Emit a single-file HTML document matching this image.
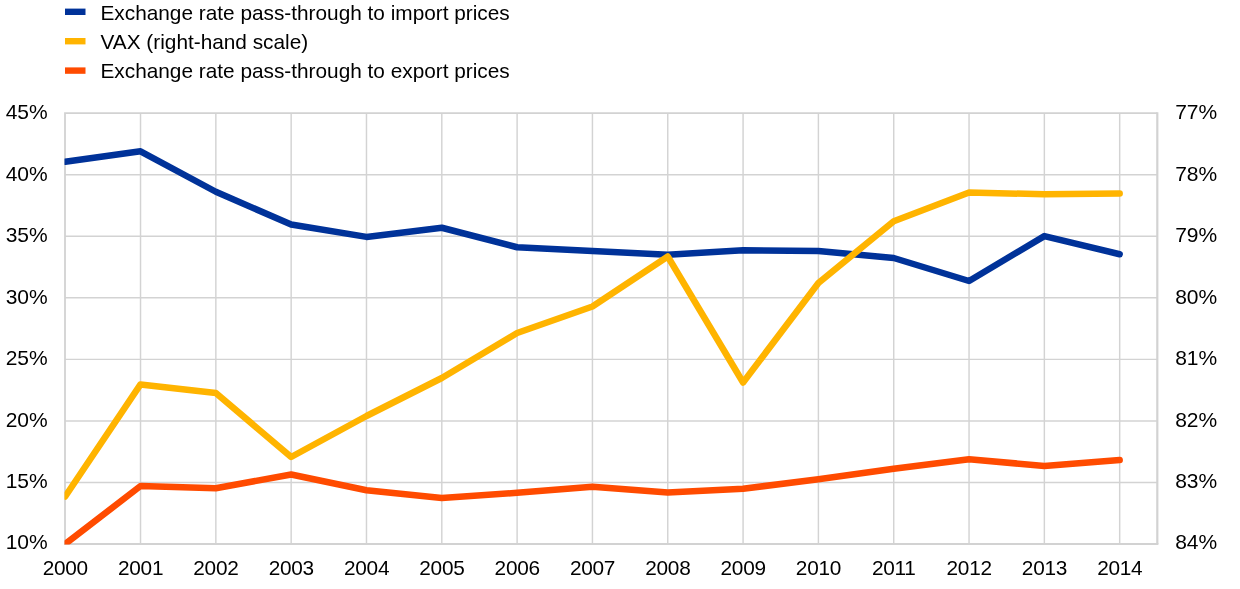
<!DOCTYPE html>
<html lang="en"><head><meta charset="utf-8"><title>Exchange rate pass-through and VAX</title>
<style>
html,body{margin:0;padding:0;background:#fff;}
body{width:1240px;height:589px;overflow:hidden;}
svg{display:block;}
text{font-family:"Liberation Sans",Arial,Helvetica,sans-serif;font-size:20.8px;fill:#000;}
.leg{font-size:20.8px}
.ax{letter-spacing:-0.25px}
.ay{font-size:21px}
</style></head><body>
<svg width="1240" height="589" viewBox="0 0 1240 589">
<rect x="0" y="0" width="1240" height="589" fill="#ffffff"/>
<defs><clipPath id="plot"><rect x="64.5" y="112.7" width="1093.3" height="431.8"/></clipPath></defs>

<g stroke="#d3d3d3" stroke-width="1.45" fill="none">
<line x1="65.0" y1="174.74" x2="1157.3" y2="174.74"/>
<line x1="65.0" y1="236.29" x2="1157.3" y2="236.29"/>
<line x1="65.0" y1="297.83" x2="1157.3" y2="297.83"/>
<line x1="65.0" y1="359.37" x2="1157.3" y2="359.37"/>
<line x1="65.0" y1="420.91" x2="1157.3" y2="420.91"/>
<line x1="65.0" y1="482.46" x2="1157.3" y2="482.46"/>
<line x1="140.52" y1="113.2" x2="140.52" y2="544.0"/>
<line x1="215.84" y1="113.2" x2="215.84" y2="544.0"/>
<line x1="291.16" y1="113.2" x2="291.16" y2="544.0"/>
<line x1="366.48" y1="113.2" x2="366.48" y2="544.0"/>
<line x1="441.80" y1="113.2" x2="441.80" y2="544.0"/>
<line x1="517.12" y1="113.2" x2="517.12" y2="544.0"/>
<line x1="592.44" y1="113.2" x2="592.44" y2="544.0"/>
<line x1="667.76" y1="113.2" x2="667.76" y2="544.0"/>
<line x1="743.08" y1="113.2" x2="743.08" y2="544.0"/>
<line x1="818.40" y1="113.2" x2="818.40" y2="544.0"/>
<line x1="893.72" y1="113.2" x2="893.72" y2="544.0"/>
<line x1="969.04" y1="113.2" x2="969.04" y2="544.0"/>
<line x1="1044.36" y1="113.2" x2="1044.36" y2="544.0"/>
<line x1="1119.68" y1="113.2" x2="1119.68" y2="544.0"/>
</g>
<path d="M65.0,544.9V113.2H1157.3" fill="none" stroke="#d2d2d2" stroke-width="1.8"/>
<path d="M1157.3,112.3V544.0" fill="none" stroke="#d2d2d2" stroke-width="2.2"/>
<path d="M64.1,544.0H1158.3999999999999" fill="none" stroke="#d2d2d2" stroke-width="1.8"/>
<g clip-path="url(#plot)" fill="none" stroke-width="6.5" stroke-linejoin="round" stroke-linecap="round">
<polyline stroke="#003299" points="65.20,161.70 140.52,151.30 215.84,191.75 291.16,224.50 366.48,236.90 441.80,227.75 517.12,247.25 592.44,251.00 667.76,254.70 743.08,250.25 818.40,251.00 893.72,258.00 969.04,281.00 1044.36,236.10 1119.68,254.25"/>
<polyline stroke="#ffb400" points="65.20,496.50 140.52,384.40 215.84,393.00 291.16,457.00 366.48,416.00 441.80,378.00 517.12,333.00 592.44,306.50 667.76,256.50 743.08,382.50 818.40,283.00 893.72,221.25 969.04,192.50 1044.36,194.25 1119.68,193.50"/>
<polyline stroke="#ff4b00" points="65.20,544.00 140.52,486.00 215.84,488.20 291.16,474.50 366.48,490.30 441.80,498.00 517.12,492.75 592.44,486.75 667.76,492.50 743.08,488.75 818.40,479.25 893.72,468.75 969.04,459.25 1044.36,466.00 1119.68,460.00"/>
</g>
<rect x="65" y="8.60" width="20.5" height="6.4" fill="#003299"/>
<text class="leg" x="100.5" y="20">Exchange rate pass-through to import prices</text>
<rect x="65" y="38.00" width="20.5" height="6.4" fill="#ffb400"/>
<text class="leg" x="100.5" y="49">VAX (right-hand scale)</text>
<rect x="65" y="67.40" width="20.5" height="6.4" fill="#ff4b00"/>
<text class="leg" x="100.5" y="78">Exchange rate pass-through to export prices</text>
<text class="ay" x="47.7" y="119.40" text-anchor="end">45%</text>
<text class="ay" x="1175.2" y="119.40">77%</text>
<text class="ay" x="47.7" y="180.82" text-anchor="end">40%</text>
<text class="ay" x="1175.2" y="180.82">78%</text>
<text class="ay" x="47.7" y="242.24" text-anchor="end">35%</text>
<text class="ay" x="1175.2" y="242.24">79%</text>
<text class="ay" x="47.7" y="303.66" text-anchor="end">30%</text>
<text class="ay" x="1175.2" y="303.66">80%</text>
<text class="ay" x="47.7" y="365.08" text-anchor="end">25%</text>
<text class="ay" x="1175.2" y="365.08">81%</text>
<text class="ay" x="47.7" y="426.50" text-anchor="end">20%</text>
<text class="ay" x="1175.2" y="426.50">82%</text>
<text class="ay" x="47.7" y="487.92" text-anchor="end">15%</text>
<text class="ay" x="1175.2" y="487.92">83%</text>
<text class="ay" x="47.7" y="549.34" text-anchor="end">10%</text>
<text class="ay" x="1175.2" y="549.34">84%</text>
<text class="ax" x="65.30" y="575" text-anchor="middle">2000</text>
<text class="ax" x="140.62" y="575" text-anchor="middle">2001</text>
<text class="ax" x="215.94" y="575" text-anchor="middle">2002</text>
<text class="ax" x="291.26" y="575" text-anchor="middle">2003</text>
<text class="ax" x="366.58" y="575" text-anchor="middle">2004</text>
<text class="ax" x="441.90" y="575" text-anchor="middle">2005</text>
<text class="ax" x="517.22" y="575" text-anchor="middle">2006</text>
<text class="ax" x="592.54" y="575" text-anchor="middle">2007</text>
<text class="ax" x="667.86" y="575" text-anchor="middle">2008</text>
<text class="ax" x="743.18" y="575" text-anchor="middle">2009</text>
<text class="ax" x="818.50" y="575" text-anchor="middle">2010</text>
<text class="ax" x="893.82" y="575" text-anchor="middle">2011</text>
<text class="ax" x="969.14" y="575" text-anchor="middle">2012</text>
<text class="ax" x="1044.46" y="575" text-anchor="middle">2013</text>
<text class="ax" x="1119.78" y="575" text-anchor="middle">2014</text>
</svg></body></html>
